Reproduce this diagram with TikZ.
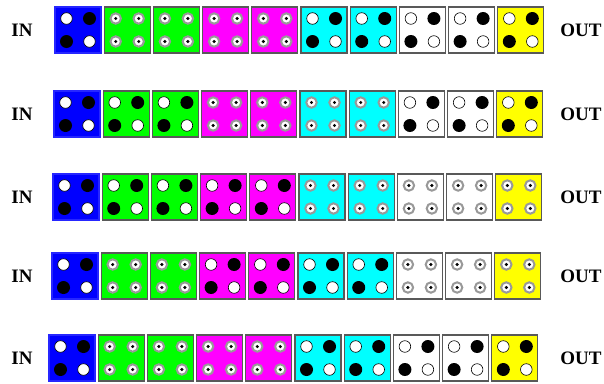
\documentclass[tikz,border=0pt]{standalone}
\usepackage{fontspec}
\setmainfont{Liberation Serif}
\definecolor{pblue}{RGB}{0,0,255}
\definecolor{pgreen}{RGB}{0,255,0}
\definecolor{pmagenta}{RGB}{255,0,255}
\definecolor{pcyan}{RGB}{0,255,255}
\definecolor{pyellow}{RGB}{255,255,0}
\tikzset{
	box/.style={draw=black!65, line width=1.1pt},
	pinon/.style={fill=black},
	pinoff/.style={fill=white, draw=black, line width=0.6pt},
	pinidle/.style={fill=white, draw=black!40, line width=2pt},
	tag/.style={font=\fontsize{19}{19}\selectfont\bfseries},
}
% one cell: #1 x, #2 y (top left), #3 colour, #4 1 = set, 0 = idle
\newcommand{\cellbox}[4]{%
	\begin{scope}[shift={(#1,#2)}]
		\ifx#3\bluename
			\draw[box, draw=blue!85!white, fill=#3] (0,0) rectangle (46,46);
		\else
			\draw[box, fill=#3] (0,0) rectangle (46,46);
		\fi
		\ifnum#4=1\relax
			\draw[pinoff] (11.5,11.5) circle (5.8pt);
			\fill[pinon] (34.5,11.5) circle (6.5pt);
			\fill[pinon] (11.5,34.5) circle (6.5pt);
			\draw[pinoff] (34.5,34.5) circle (5.8pt);
		\else
			\foreach \px/\py in {11.5/11.5, 34.5/11.5, 11.5/34.5, 34.5/34.5} {
				\draw[pinidle] (\px,\py) circle (5.2pt);
				\fill[pinon] (\px,\py) circle (1.7pt);
			}
		\fi
	\end{scope}}
\def\bluename{pblue}

\begin{document}
\begin{tikzpicture}[x=1pt, y=-1pt]
	\useasboundingbox (0,0) rectangle (604,383);
	% five rows: left edge, top edge, then green / magenta / cyan / white / yellow pairs
	\foreach \x/\y/\g/\m/\c/\w/\yl [count=\r] in {55/7/0/0/1/1/1, 54/91/1/0/0/1/1, 53/174/1/1/0/0/0, 52/253/0/1/1/0/0, 49/335/0/0/1/1/1} {
		\node[tag] (in\r) at (22,\y+23) {IN};
		\foreach \col/\st [count=\i from 0] in {pblue/1, pgreen/\g, pgreen/\g, pmagenta/\m, pmagenta/\m, pcyan/\c, pcyan/\c, white/\w, white/\w, pyellow/\yl}
			\cellbox{\x+49.2*\i}{\y}{\col}{\st};
		\node[tag] (out\r) at (581,\y+23) {OUT};
	}
\end{tikzpicture}
\end{document}
